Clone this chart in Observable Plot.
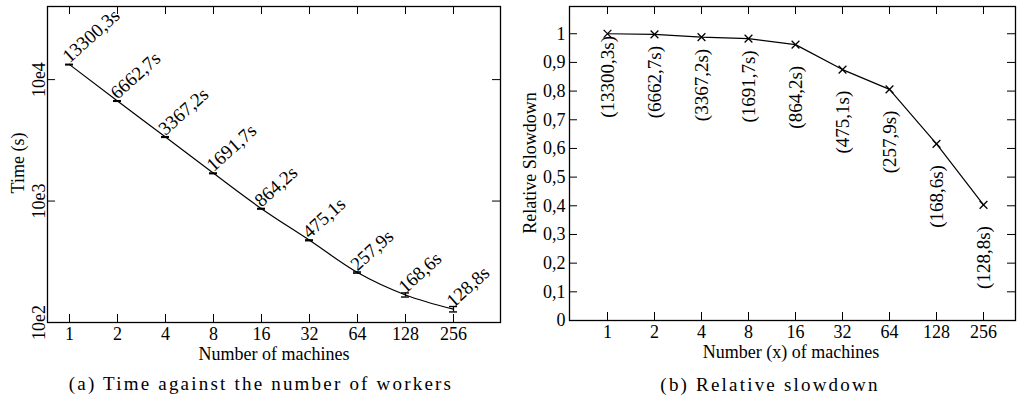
<!DOCTYPE html>
<html>
<head>
<meta charset="utf-8">
<script src="https://cdn.jsdelivr.net/npm/d3@7"></script>
<script src="https://cdn.jsdelivr.net/npm/@observablehq/plot@0.6"></script>
<style>
  html, body { margin: 0; padding: 0; background: white; }
  #wrap { position: relative; width: 1019px; height: 401px; overflow: hidden; font-family: "Liberation Serif", serif; color: black; }
  #wrap svg, #wrap svg text { font-family: "Liberation Serif", serif !important; }
  .abs { position: absolute; }
  .lbl { position: absolute; white-space: nowrap; line-height: 1; font-size: 18px; transform: translate(-50%, -50%); }
  .rot { transform: translate(-50%, -50%) rotate(-90deg); }
  .cap { position: absolute; white-space: nowrap; line-height: 1; font-size: 19px; letter-spacing: 2.2px; transform: translate(-50%, -50%); }
</style>
</head>
<body>
<div id="wrap">
  <div id="left" class="abs" style="left:0;top:0"></div>
  <div id="right" class="abs" style="left:510px;top:0"></div>
  <div class="lbl rot" style="left:17.5px;top:163px">Time (s)</div>
  <div class="lbl" style="left:274px;top:354px">Number of machines</div>
  <div class="lbl rot" style="left:530px;top:163px">Relative Slowdown</div>
  <div class="lbl" style="left:791px;top:352px">Number (x) of machines</div>
  <div class="cap" style="left:261px;top:383px">(a) Time against the number of workers</div>
  <div class="cap" style="left:770px;top:384px">(b) Relative slowdown</div>
</div>
<script>
// ---- data ----
const machines = ["1", "2", "4", "8", "16", "32", "64", "128", "256"];
const times = [13300.3, 6662.7, 3367.2, 1691.7, 864.2, 475.1, 257.9, 168.6, 128.8];
const timeErr = [80, 40, 25, 12, 6, 4, 3, 6.5, 6.6];
const timeLabels = ["13300,3s", "6662,7s", "3367,2s", "1691,7s", "864,2s", "475,1s", "257,9s", "168,6s", "128,8s"];
const slowdown = [1.0, 0.998, 0.988, 0.983, 0.962, 0.875, 0.806, 0.616, 0.403];
const slowLabels = ["(13300,3s)", "(6662,7s)", "(3367,2s)", "(1691,7s)", "(864,2s)", "(475,1s)", "(257,9s)", "(168,6s)", "(128,8s)"];
const timeTicks = [100, 1000, 10000];
const timeTickLabels = ["10e2", "10e3", "10e4"];
const slowTicks = [0, 0.1, 0.2, 0.3, 0.4, 0.5, 0.6, 0.7, 0.8, 0.9, 1];
const slowTickLabels = ["0", "0,1", "0,2", "0,3", "0,4", "0,5", "0,6", "0,7", "0,8", "0,9", "1"];

const dataA = machines.map((m, i) => ({m, t: times[i], e: timeErr[i], label: timeLabels[i]}));
const dataB = machines.map((m, i) => ({m, s: slowdown[i], label: slowLabels[i]}));

const FONT = "Liberation Serif";
const baseStyle = {fontFamily: FONT, fontSize: "18px", color: "black", background: "white", overflow: "visible"};

// ---- left chart ----
const LW = 510, LH = 372, LML = 47, LMR = 10, LMT = 6, LMB = 50;
const liW = LW - LML - LMR, liH = LH - LMT - LMB;
const left = Plot.plot({
  width: LW, height: LH,
  marginLeft: LML, marginRight: LMR, marginTop: LMT, marginBottom: LMB,
  style: baseStyle,
  x: {type: "point", domain: machines, padding: 0.684, align: 0.313, label: null},
  y: {type: "log", domain: [100, 40000], label: null},
  marks: [
    Plot.ruleX(machines, {x: d => d, insetTop: liH - 8, stroke: "black", strokeWidth: 1}),
    Plot.ruleX(machines, {x: d => d, insetBottom: liH - 8, stroke: "black", strokeWidth: 1}),
    Plot.ruleY(timeTicks.slice(1), {y: d => d, insetRight: liW - 8, stroke: "black", strokeWidth: 1}),
    Plot.ruleY(timeTicks.slice(1), {y: d => d, insetLeft: liW - 8, stroke: "black", strokeWidth: 1}),
    Plot.line(dataA, {x: "m", y: "t", curve: "monotone-x", stroke: "black", strokeWidth: 1.2}),
    Plot.ruleX(dataA, {x: "m", y1: d => d.t - d.e, y2: d => d.t + d.e, stroke: "black", strokeWidth: 1.2}),
    Plot.ruleY(dataA, {x1: "m", x2: "m", y: d => d.t - d.e, insetLeft: -4, insetRight: -4, stroke: "black", strokeWidth: 1.4}),
    Plot.ruleY(dataA, {x1: "m", x2: "m", y: d => d.t + d.e, insetLeft: -4, insetRight: -4, stroke: "black", strokeWidth: 1.4}),
    Plot.text(dataA, {x: "m", y: "t", text: "label", rotate: -42, textAnchor: "start", lineAnchor: "bottom", dx: 0, dy: -1, fontSize: 19, fontFamily: FONT, fill: "black"}),
    Plot.axisX({anchor: "bottom", tickSize: 0, tickPadding: 5, label: null, fontSize: 18, fontFamily: FONT}),
    Plot.axisY({anchor: "left", ticks: timeTicks, tickFormat: d => timeTickLabels[timeTicks.indexOf(d)], tickRotate: -90, tickSize: 0, tickPadding: 3, label: null, fontSize: 18, fontFamily: FONT}),
    Plot.frame({stroke: "black", strokeWidth: 1.3})
  ]
});
document.getElementById("left").appendChild(left);

// ---- right chart ----
const RW = 509, RH = 372, RML = 59, RMR = 4, RMT = 6, RMB = 52;
const riW = RW - RML - RMR, riH = RH - RMT - RMB;
const right = Plot.plot({
  width: RW, height: RH,
  marginLeft: RML, marginRight: RMR, marginTop: RMT, marginBottom: RMB,
  style: baseStyle,
  x: {type: "point", domain: machines, padding: 0.6825, align: 0.543, label: null},
  y: {type: "linear", domain: [0, 1.095], label: null},
  marks: [
    Plot.ruleX(machines, {x: d => d, insetTop: riH - 8, stroke: "black", strokeWidth: 1}),
    Plot.ruleX(machines, {x: d => d, insetBottom: riH - 8, stroke: "black", strokeWidth: 1}),
    Plot.ruleY(slowTicks, {y: d => d, insetRight: riW - 8, stroke: "black", strokeWidth: 1}),
    Plot.ruleY(slowTicks, {y: d => d, insetLeft: riW - 8, stroke: "black", strokeWidth: 1}),
    Plot.line(dataB, {x: "m", y: "s", stroke: "black", strokeWidth: 1.2}),
    Plot.dot(dataB, {x: "m", y: "s", symbol: "times", r: 3.6, stroke: "black", strokeWidth: 1.3}),
    Plot.text(dataB, {x: "m", y: "s", text: "label", rotate: -90, textAnchor: "start", lineAnchor: "middle", dy: 84, fontSize: 19, fontFamily: FONT, fill: "black"}),
    Plot.axisX({anchor: "bottom", tickSize: 0, tickPadding: 5, label: null, fontSize: 18, fontFamily: FONT}),
    Plot.axisY({anchor: "left", ticks: slowTicks, tickFormat: d => slowTickLabels[slowTicks.indexOf(d)], tickSize: 0, tickPadding: 4, label: null, fontSize: 18, fontFamily: FONT}),
    Plot.frame({stroke: "black", strokeWidth: 1.3})
  ]
});
document.getElementById("right").appendChild(right);
</script>
</body>
</html>
